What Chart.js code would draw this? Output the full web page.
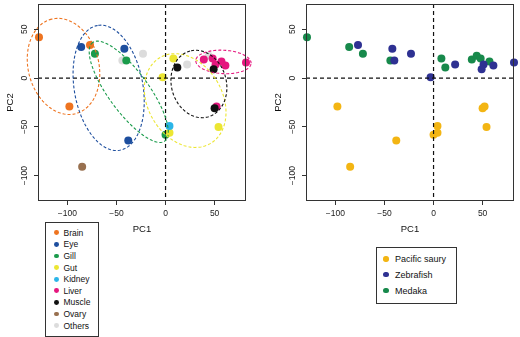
<!DOCTYPE html>
<html>
<head>
<meta charset="utf-8">
<script src="https://cdn.jsdelivr.net/npm/chart.js@4.4.1/dist/chart.umd.min.js"></script>
<style>
    body { margin: 0; background: #fff; font-family: 'Liberation Sans', Arial, sans-serif; }
    #wrap { position: relative; width: 520px; height: 337px; overflow: hidden; }
    #wrap canvas { position: absolute; top: 0; }
    .legend { position: absolute; border: 1px solid #333; background: #fff; color: #111; box-sizing: border-box; }
    .legend .row { position: absolute; left: 0; white-space: nowrap; }
    .legend .dot { position: absolute; border-radius: 50%; }
</style>
</head>
<body>
<div id="wrap">
    <canvas id="tissueChart" width="260" height="337" style="left:0"></canvas>
    <canvas id="speciesChart" width="260" height="337" style="left:260px"></canvas>
    <div id="tissue-legend" class="legend" style="left:45px; top:222px; width:54px; height:115px; font-size:8.5px;"></div>
    <div id="species-legend" class="legend" style="left:376px; top:247px; width:81px; height:57px; font-size:9px;"></div>
</div>
<script>
// === DATA ===
const tissues = ['Brain', 'Eye', 'Gill', 'Gut', 'Kidney', 'Liver', 'Muscle', 'Ovary', 'Others'];
const tissueColors = ['#ee7420', '#1d4e9e', '#1a9b4b', '#ece632', '#2bb5e8', '#e5177e', '#111111', '#98704f', '#dcdcdc'];
const speciesNames = ['Pacific saury', 'Zebrafish', 'Medaka'];
const speciesColors = ['#f3b513', '#2e3192', '#17894b'];

// one entry per sample
const pc1 = [-98, -38, 0, 4, 4, 54, 50, 52, -85,
             -77, -42, -40, -23, -3, 22, 51, 49, 61, 82,
             -129, -86, -72, -44, 8, 12, 39, 44, 48, 57];
const pc2 = [-29, -64, -58, -56, -49, -50, -31, -29, -91,
             34, 30, 18, 25, 1, 14, 14, 9, 13, 16,
             42, 32, 25, 18, 20, 11, 19, 23, 20, 17];
const sampleTissue = ['Brain', 'Eye', 'Gill', 'Gut', 'Kidney', 'Gut', 'Muscle', 'Liver', 'Ovary',
                      'Brain', 'Eye', 'Gill', 'Others', 'Gut', 'Others', 'Liver', 'Muscle', 'Liver', 'Liver',
                      'Brain', 'Eye', 'Gill', 'Others', 'Gut', 'Muscle', 'Liver', 'Others', 'Liver', 'Liver'];
const sampleSpecies = ['Pacific saury', 'Pacific saury', 'Pacific saury', 'Pacific saury', 'Pacific saury',
                       'Pacific saury', 'Pacific saury', 'Pacific saury', 'Pacific saury',
                       'Zebrafish', 'Zebrafish', 'Zebrafish', 'Zebrafish', 'Zebrafish',
                       'Zebrafish', 'Zebrafish', 'Zebrafish', 'Zebrafish', 'Zebrafish',
                       'Medaka', 'Medaka', 'Medaka', 'Medaka', 'Medaka',
                       'Medaka', 'Medaka', 'Medaka', 'Medaka', 'Medaka'];

const axisTicks = [-100, -50, 0, 50];

// dashed tissue ellipses: centre, semi axes, tilt in degrees
const ellipseTissue = ['Brain', 'Eye', 'Gill', 'Gut', 'Muscle', 'Liver'];
const ellipseX = [-104, -58, -37.5, 20, 34, 59];
const ellipseY = [12, -10, -14, -23, -6, 16.6];
const ellipseA = [50, 65, 62.5, 51, 35, 28.2];
const ellipseB = [36, 35, 20.5, 38, 28, 12];
const ellipseAngle = [104, 100, 126, 120, 105, -3];

const FONT = "'Liberation Sans', Arial, sans-serif";
const fmt = v => (v < 0 ? '\u2212' + Math.abs(v) : String(v));

// === PLUGIN: box, zero lines, ellipses, y labels, titles ===
const framePlugin = {
    id: 'frame',
    afterDatasetsDraw(chart, args, opts) {
        const { ctx, chartArea: a, scales: { x, y } } = chart;
        ctx.save();
        ctx.lineWidth = 1.2;
        ctx.setLineDash([4, 3]);
        ctx.strokeStyle = '#111';
        const x0 = x.getPixelForValue(0);
        const y0 = y.getPixelForValue(0);
        ctx.beginPath();
        ctx.moveTo(x0, a.top); ctx.lineTo(x0, a.bottom);
        ctx.moveTo(a.left, y0); ctx.lineTo(a.right, y0);
        ctx.stroke();

        if (opts.ellipses) {
            ctx.setLineDash([3, 2]);
            ctx.lineWidth = 1.1;
            ellipseTissue.forEach((t, i) => {
                const th = ellipseAngle[i] * Math.PI / 180;
                ctx.strokeStyle = tissueColors[tissues.indexOf(t)];
                ctx.beginPath();
                for (let k = 0; k <= 120; k++) {
                    const p = k / 120 * Math.PI * 2;
                    const dx = ellipseA[i] * Math.cos(p), dy = ellipseB[i] * Math.sin(p);
                    const vx = ellipseX[i] + dx * Math.cos(th) - dy * Math.sin(th);
                    const vy = ellipseY[i] + dx * Math.sin(th) + dy * Math.cos(th);
                    const px = x.getPixelForValue(vx), py = y.getPixelForValue(vy);
                    if (k === 0) ctx.moveTo(px, py); else ctx.lineTo(px, py);
                }
                ctx.stroke();
            });
        }
        ctx.restore();
    },
    afterDraw(chart) {
        const { ctx, chartArea: a, scales: { y } } = chart;
        ctx.save();
        ctx.strokeStyle = '#333';
        ctx.lineWidth = 1;
        ctx.strokeRect(a.left + 0.5, a.top + 0.5, a.width - 1, a.height - 1);

        ctx.fillStyle = '#222';
        ctx.textAlign = 'center';
        ctx.textBaseline = 'middle';
        ctx.font = '8.5px ' + FONT;
        axisTicks.forEach(v => {
            ctx.save();
            ctx.translate(a.left - 13, y.getPixelForValue(v));
            ctx.rotate(-Math.PI / 2);
            ctx.fillText(fmt(v), 0, 0);
            ctx.restore();
        });

        ctx.fillStyle = '#111';
        ctx.font = '9.5px ' + FONT;
        ctx.fillText('PC1', (a.left + a.right) / 2, 229);
        ctx.translate(a.left - 28, (a.top + a.bottom) / 2);
        ctx.rotate(-Math.PI / 2);
        ctx.fillText('PC2', 0, 0);
        ctx.restore();
    }
};

function scaleOptions(axis, min, max, fit) {
    return {
        type: 'linear',
        min: min,
        max: max,
        afterBuildTicks: s => { s.ticks = axisTicks.map(v => ({ value: v })); },
        afterFit: fit,
        border: { display: false },
        grid: { drawOnChartArea: false, drawTicks: true, tickLength: 4, color: '#333' },
        ticks: axis === 'x'
            ? { display: true, autoSkip: false, maxRotation: 0, padding: 4, color: '#222',
                font: { family: FONT, size: 8.5 }, callback: v => fmt(v) }
            : { display: false }
    };
}

function buildChart(id, datasets, yWidth, padRight, ellipses) {
    return new Chart(document.getElementById(id), {
        type: 'scatter',
        data: { datasets: datasets },
        options: {
            responsive: false,
            animation: false,
            devicePixelRatio: 1,
            layout: { padding: { left: 0, top: 3, right: padRight, bottom: 0 } },
            elements: { point: { radius: 4, hoverRadius: 4, borderWidth: 0 } },
            scales: {
                x: scaleOptions('x', -130, 82, s => { s.height = 136; }),
                y: scaleOptions('y', -126, 76, s => { s.width = yWidth; })
            },
            plugins: { legend: { display: false }, tooltip: { enabled: false }, frame: { ellipses: ellipses } }
        },
        plugins: [framePlugin]
    });
}

function pointsWhere(list, value) {
    const pts = [];
    pc1.forEach((v, k) => { if (list[k] === value) pts.push({ x: v, y: pc2[k] }); });
    return pts;
}

// === LEFT: by tissue ===
const tissueLayer = ['Muscle', 'Kidney', 'Gut', 'Liver', 'Gill', 'Eye', 'Brain', 'Ovary', 'Others'];
buildChart('tissueChart', tissues.map((t, i) => ({
    label: t,
    data: pointsWhere(sampleTissue, t),
    backgroundColor: tissueColors[i],
    clip: false,
    order: tissueLayer.indexOf(t)
})), 38, 14, true);

// === RIGHT: by species ===
const speciesLayer = ['Zebrafish', 'Medaka', 'Pacific saury'];
buildChart('speciesChart', speciesNames.map((s, i) => ({
    label: s,
    data: pointsWhere(sampleSpecies, s),
    backgroundColor: speciesColors[i],
    clip: false,
    order: speciesLayer.indexOf(s)
})), 46, 6, false);

// === LEGENDS ===
function fillLegend(id, names, colors, firstY, step, dotX, textX, r) {
    const box = document.getElementById(id);
    names.forEach((n, i) => {
        const cy = firstY + i * step;
        box.innerHTML += `
            <div class="dot" style="left:${dotX - r}px; top:${cy - r}px; width:${2 * r}px; height:${2 * r}px; background:${colors[i]}"></div>
            <div class="row" style="left:${textX}px; top:${cy - 6}px; height:12px; line-height:12px">${n}</div>`;
    });
}
fillLegend('tissue-legend', tissues, tissueColors, 9.7, 11.62, 10.7, 17.5, 2.4);
fillLegend('species-legend', speciesNames, speciesColors, 11, 15.8, 9, 18, 2.7);
</script>
</body>
</html>
